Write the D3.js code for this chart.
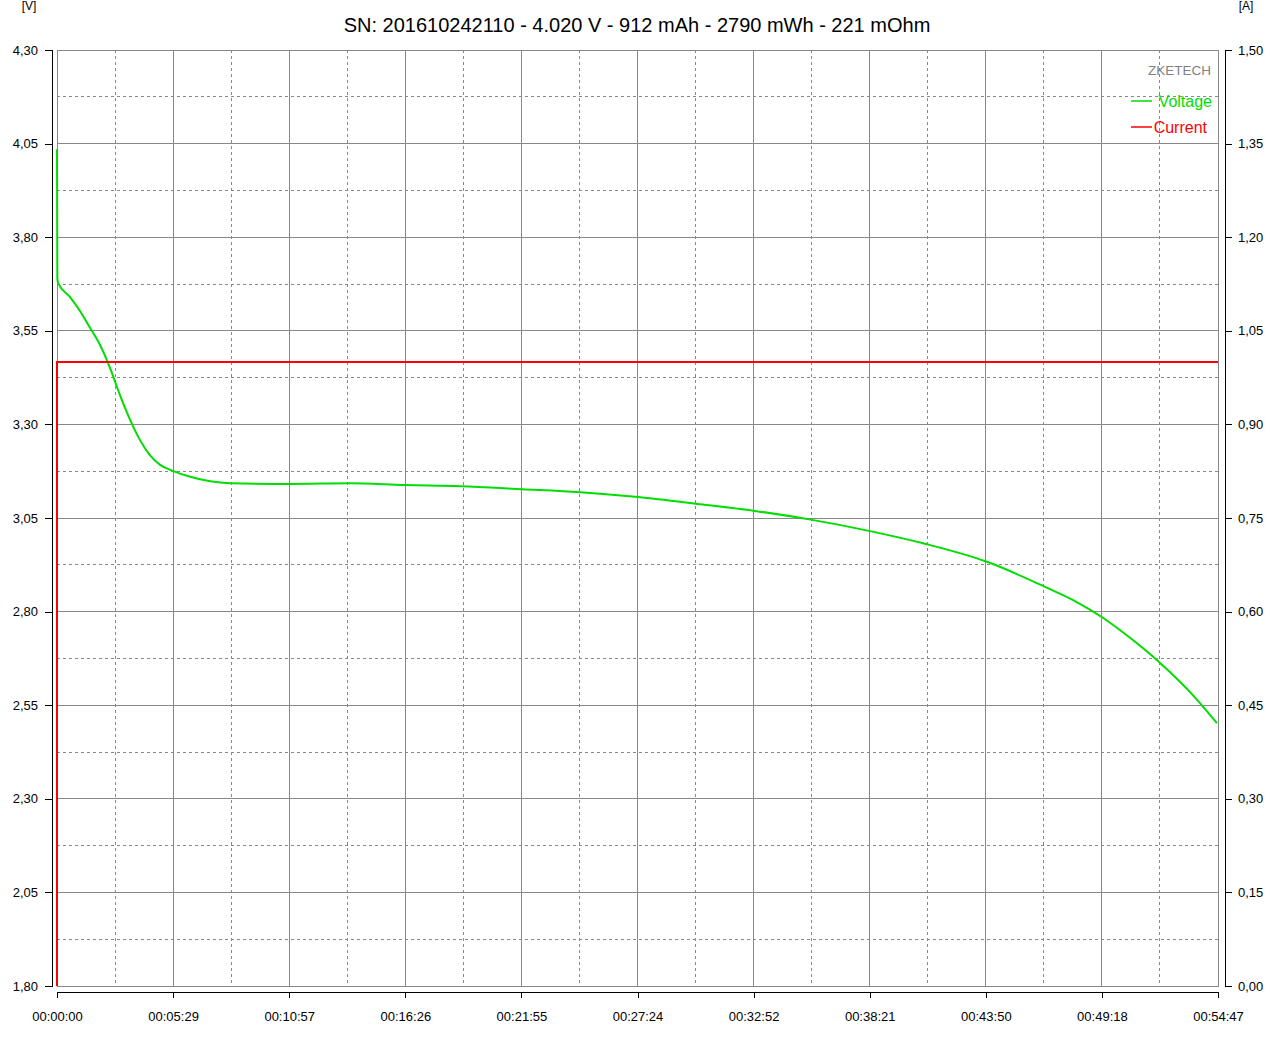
<!DOCTYPE html>
<html><head><meta charset="utf-8">
<script src="https://cdn.jsdelivr.net/npm/d3@7"></script>
<style>body{margin:0;background:#fff}svg{display:block;font-family:"Liberation Sans",Arial,sans-serif}</style>
</head><body><svg id="c" width="1280" height="1043"></svg>
<script>
const title = "SN: 201610242110 - 4.020 V - 912 mAh - 2790 mWh - 221 mOhm";
const timeLabels = ["00:00:00","00:05:29","00:10:57","00:16:26","00:21:55","00:27:24","00:32:52","00:38:21","00:43:50","00:49:18","00:54:47"];
const voltTicks = [1.80,2.05,2.30,2.55,2.80,3.05,3.30,3.55,3.80,4.05,4.30];
const ampTicks = [0,0.15,0.30,0.45,0.60,0.75,0.90,1.05,1.20,1.35,1.50];
// time in seconds, voltage in V
const vTime = [0,1,3,37,65,93,122,150,178,207,235,263,292,328,377,490,660,830,985,1141,1317,1481,1645,1820,1976,2138,2302,2458,2633,2797,2882,2962,3038,3123,3208,3284];
const vVolt = [4.035,3.69,3.678,3.640,3.603,3.559,3.512,3.451,3.379,3.312,3.258,3.218,3.192,3.176,3.160,3.143,3.141,3.143,3.138,3.135,3.127,3.119,3.106,3.087,3.069,3.045,3.015,2.981,2.933,2.866,2.828,2.783,2.730,2.663,2.585,2.502];
const iTime = [0,0,3287];
const iAmp = [0,1.0,1.0];
const tMax = 3287;

const svg = d3.select("#c");
const L=57,R=1218,T=50,B=986;
const x = d3.scaleLinear().domain([0,tMax]).range([L,R]);
const yV = d3.scaleLinear().domain([1.8,4.3]).range([B,T]);
const yA = d3.scaleLinear().domain([0,1.5]).range([B,T]);
const fmt = d3.format(".2f");
const comma = v => fmt(v).replace(".",",");

// grid
const g = svg.append("g");
const xt = d3.range(0,21).map(i=>i*tMax/20);
xt.forEach((t,i)=>{
  g.append("line").attr("x1",x(t)).attr("x2",x(t)).attr("y1",T).attr("y2",B)
   .attr("stroke","#888").attr("stroke-width",1).attr("shape-rendering","crispEdges")
   .attr("stroke-dasharray", i%2? "3,3":null);
});
const yt = d3.range(0,21).map(i=>1.8+i*0.125);
yt.forEach((v,i)=>{
  g.append("line").attr("x1",L).attr("x2",R).attr("y1",yV(v)).attr("y2",yV(v))
   .attr("stroke","#888").attr("stroke-width",1).attr("shape-rendering","crispEdges")
   .attr("stroke-dasharray", i%2? "3,3":null);
});
g.append("rect").attr("x",L).attr("y",T).attr("width",R-L).attr("height",B-T)
 .attr("fill","none").attr("stroke","#888").attr("shape-rendering","crispEdges");

// axes
const axL = d3.axisLeft(yV).tickValues(voltTicks).tickFormat(comma).tickSize(7).tickPadding(7);
svg.append("g").attr("transform","translate(52,0)").call(axL);
const axR = d3.axisRight(yA).tickValues(ampTicks).tickFormat(comma).tickSize(7).tickPadding(6);
svg.append("g").attr("transform","translate(1225,0)").call(axR);
const axB = d3.axisBottom(x).tickValues(d3.range(0,11).map(i=>i*tMax/10)).tickFormat((d,i)=>timeLabels[i]).tickSize(6).tickPadding(14);
svg.append("g").attr("transform","translate(0,992)").call(axB);
svg.selectAll(".domain").attr("stroke","#000").attr("shape-rendering","crispEdges");
svg.selectAll(".tick line").attr("stroke","#000").attr("shape-rendering","crispEdges");
svg.selectAll(".tick text").attr("font-size",13).attr("fill","#000").attr("font-family","Liberation Sans, Arial, sans-serif");

// units
svg.append("text").attr("x",29).attr("y",10).attr("text-anchor","middle").attr("font-size",12).text("[V]");
svg.append("text").attr("x",1246).attr("y",10).attr("text-anchor","middle").attr("font-size",12).text("[A]");

// title
svg.append("text").attr("x",637).attr("y",32).attr("text-anchor","middle").attr("font-size",20).attr("fill","#000").text(title);

// lines
const vData = vTime.map((t,i)=>({t,v:vVolt[i]}));
svg.append("path").datum(vData).attr("fill","none").attr("stroke","#00dd00").attr("stroke-width",2)
 .attr("d",d3.line().x(d=>x(d.t)).y(d=>yV(d.v)).curve(d3.curveMonotoneX));
const iData = iTime.map((t,i)=>({t,a:iAmp[i]}));
svg.append("path").datum(iData).attr("fill","none").attr("stroke","#ff0000").attr("stroke-width",2)
 .attr("d",d3.line().x(d=>x(d.t)).y(d=>yA(d.a)));

// legend
const lg = svg.append("g");
lg.append("text").attr("x",1211).attr("y",75).attr("text-anchor","end").attr("font-size",13.5).attr("fill","#808080").text("ZKETECH");
lg.append("line").attr("x1",1131).attr("x2",1152).attr("y1",101).attr("y2",101).attr("stroke","#00dd00").attr("stroke-width",1.5);
lg.append("text").attr("x",1212).attr("y",107).attr("text-anchor","end").attr("font-size",16).attr("fill","#00dd00").text("Voltage");
lg.append("line").attr("x1",1131).attr("x2",1152).attr("y1",127).attr("y2",127).attr("stroke","#ff0000").attr("stroke-width",1.5);
lg.append("text").attr("x",1207).attr("y",133).attr("text-anchor","end").attr("font-size",16).attr("fill","#ff0000").text("Current");
</script></body></html>
